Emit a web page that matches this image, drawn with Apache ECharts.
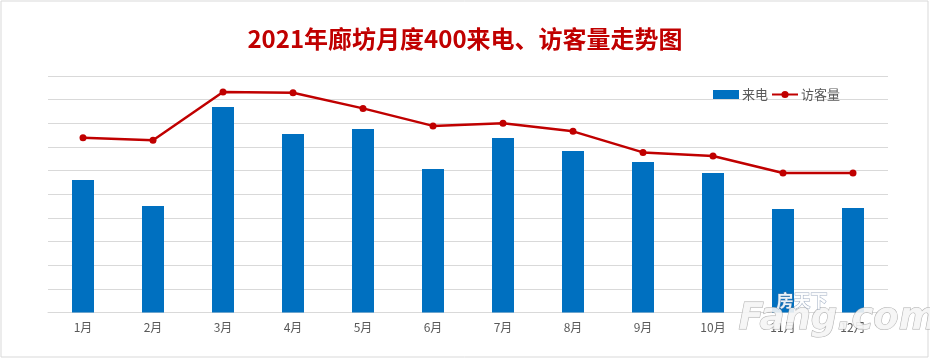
<!DOCTYPE html>
<html>
<head>
<meta charset="utf-8">
<script src="https://cdn.jsdelivr.net/npm/echarts@6/dist/echarts.min.js"></script>
<style>
html,body{margin:0;padding:0;background:#fff;}
#chart{width:930px;height:359px;}
</style>
</head>
<body>
<div id="chart"></div>
<script>
const categories = ['1月','2月','3月','4月','5月','6月','7月','8月','9月','10月','11月','12月'];
const callsValues = [56.0, 45.0, 86.9, 75.5, 77.6, 60.7, 73.8, 68.3, 63.6, 59.0, 43.8, 44.2];
const visitorValues = [73.9, 72.8, 93.2, 92.9, 86.3, 78.9, 80.0, 76.6, 67.7, 66.2, 59.0, 59.0];
const seriesNames = ['来电', '访客量'];
const titleText = '2021年廊坊月度400来电、访客量走势图';

const chart = echarts.init(document.getElementById('chart'), null, {renderer: 'canvas'});
chart.setOption({
  backgroundColor: '#ffffff',
  animation: false,
  title: {
    text: titleText,
    left: 'center',
    top: 22,
    textStyle: {
      color: '#C00000',
      fontSize: 24,
      fontWeight: 'bold',
      fontFamily: '"Noto Sans CJK SC", sans-serif'
    }
  },
  legend: {
    data: [
      {name: seriesNames[0], icon: 'rect'},
      {name: seriesNames[1]}
    ],
    left: 708,
    top: 83,
    itemWidth: 26,
    itemHeight: 9,
    itemGap: 3,
    textStyle: {
      color: '#595959',
      fontSize: 13,
      fontFamily: '"Noto Sans CJK SC", sans-serif',
      padding: [0, 0, 0, -2]
    }
  },
  grid: {
    left: 48,
    right: 42,
    top: 76,
    bottom: 46.5,
    containLabel: false
  },
  xAxis: {
    type: 'category',
    data: categories,
    axisLine: {lineStyle: {color: '#d9d9d9', width: 1}},
    axisTick: {show: false},
    axisLabel: {
      color: '#595959',
      fontSize: 12,
      margin: 9,
      fontFamily: '"Noto Sans CJK SC", sans-serif'
    }
  },
  yAxis: {
    type: 'value',
    min: 0,
    max: 100,
    interval: 10,
    axisLabel: {show: false},
    axisLine: {show: false},
    axisTick: {show: false},
    splitLine: {lineStyle: {color: '#d9d9d9', width: 1}}
  },
  series: [
    {
      name: seriesNames[0],
      type: 'bar',
      data: callsValues,
      barWidth: 22,
      itemStyle: {color: '#0070C0'}
    },
    {
      name: seriesNames[1],
      type: 'line',
      data: visitorValues,
      symbol: 'circle',
      symbolSize: 7,
      lineStyle: {color: '#C00000', width: 2.5},
      itemStyle: {color: '#C00000'}
    }
  ],
  graphic: [
    {
      type: 'rect',
      shape: {x: 1, y: 1, width: 927, height: 356},
      style: {fill: 'none', stroke: '#d9d9d9', lineWidth: 1},
      silent: true,
      z: 100
    },
    {
      type: 'text',
      left: 738,
      top: 300,
      z: 100,
      style: {
        text: 'Fang.com',
        fill: 'rgba(245,245,245,0.9)',
        stroke: 'rgba(140,140,140,0.7)',
        lineWidth: 1,
        font: 'italic bold 37px "DejaVu Sans", sans-serif'
      }
    },
    {
      type: 'text',
      left: 776,
      top: 292,
      z: 101,
      style: {
        text: '房天下',
        fill: 'rgba(255,255,255,0.9)',
        stroke: 'rgba(120,140,170,0.7)',
        lineWidth: 1,
        font: 'bold 17px "Noto Sans CJK SC", sans-serif'
      }
    }
  ]
});
</script>
</body>
</html>
